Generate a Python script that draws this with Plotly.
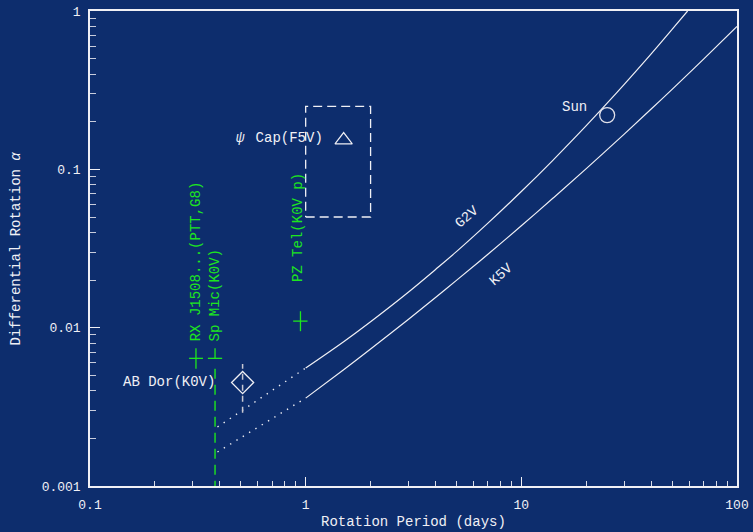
import math
import plotly.graph_objects as go

# ---- model curves: differential rotation vs rotation period ----
g2v_period = [1, 1.5, 2, 3, 4, 5, 7, 10, 14, 20, 25, 30, 40, 50, 59]
g2v_alpha = [0.00556, 0.00815, 0.0109, 0.0168, 0.0233, 0.0302, 0.0457, 0.0724,
             0.114, 0.1887, 0.2616, 0.344, 0.536, 0.765, 1.0]
k5v_period = [1, 1.5, 2, 3, 4, 5, 7, 10, 14, 20, 30, 40, 50, 70, 100]
k5v_alpha = [0.00359, 0.00543, 0.00733, 0.0113, 0.0155, 0.0199, 0.0291, 0.044,
             0.0656, 0.101, 0.167, 0.2405, 0.32, 0.497, 0.798]

# extrapolated (dotted) parts of the curves
g2v_ext_period = [0.39, 1]
g2v_ext_alpha = [0.00236, 0.00556]
k5v_ext_period = [0.39, 1]
k5v_ext_alpha = [0.00164, 0.00359]

# ---- observed stars ----
sun_period, sun_alpha = [25.0], [0.22]

psicap_period, psicap_alpha = [1.5], [0.153]
psicap_box_period = [1, 2, 2, 1, 1]
psicap_box_alpha = [0.05, 0.05, 0.25, 0.25, 0.05]

abdor_period, abdor_alpha = [0.51], [0.0045]
abdor_err_period = [0.51, 0.51]
abdor_err_alpha = [0.0029, 0.0059]

green_names = ["RX  J1508...(PTT,G8)", "Sp  Mic(K0V)", "PZ  Tel(K0V p)"]
green_period = [0.31, 0.38, 0.946]
green_alpha = [0.0064, 0.0064, 0.0110]
green_period_lo = [0.288, 0.352, 0.875]
green_period_hi = [0.334, 0.410, 1.02]
green_alpha_lo = [0.0055, 0.0064, 0.0095]
green_alpha_hi = [0.0074, 0.0074, 0.0127]

spmic_limit_period = [0.38, 0.38]
spmic_limit_alpha = [0.0055, 0.001]

# curve labels (period, alpha where the label sits)
g2v_label_at = (5.57, 0.050)
k5v_label_at = (8.09, 0.0218)

# ---- axes ----
x_tickvals = [0.1, 1, 10, 100]
x_ticktext = ["0.1", "1", "10", "100"]
y_tickvals = [0.001, 0.01, 0.1, 1]
y_ticktext = ["0.001", "0.01", "0.1", "1"]

BG = "#0d2d6d"
WHITE = "#f0f0f5"
GREEN = "#1ee61e"
FONT = "Liberation Mono"
NBSP = "\u00a0"
lg = math.log10

fig = go.Figure()

fig.add_trace(go.Scatter(x=g2v_period, y=g2v_alpha, mode="lines",
                         line=dict(color=WHITE, width=1.2), line_shape="spline"))
fig.add_trace(go.Scatter(x=k5v_period, y=k5v_alpha, mode="lines",
                         line=dict(color=WHITE, width=1.2), line_shape="spline"))
fig.add_trace(go.Scatter(x=g2v_ext_period, y=g2v_ext_alpha, mode="lines",
                         line=dict(color=WHITE, width=1.4, dash="1.4px,6px")))
fig.add_trace(go.Scatter(x=k5v_ext_period, y=k5v_ext_alpha, mode="lines",
                         line=dict(color=WHITE, width=1.4, dash="1.4px,6px")))

# Sun
fig.add_trace(go.Scatter(x=sun_period, y=sun_alpha, mode="markers",
                         marker=dict(symbol="circle-open", size=15, color="#e0e0ea",
                                     line=dict(width=1.3))))

# psi Cap with its uncertainty box
fig.add_trace(go.Scatter(x=psicap_box_period, y=psicap_box_alpha, mode="lines",
                         line=dict(color=WHITE, width=1.3, dash="9px,5px")))
fig.add_trace(go.Scatter(x=psicap_period, y=psicap_alpha, mode="markers",
                         marker=dict(symbol="triangle-up-open", size=15, color=WHITE,
                                     line=dict(width=1.2))))

# AB Dor with dashed error range
fig.add_trace(go.Scatter(x=abdor_err_period, y=abdor_err_alpha, mode="lines",
                         line=dict(color="#c8c8d2", width=1.5, dash="6px,5px")))
fig.add_trace(go.Scatter(x=abdor_period, y=abdor_alpha, mode="markers",
                         marker=dict(symbol="diamond-open", size=17, color=WHITE,
                                     line=dict(width=1.3))))

# green stars with error crosses
fig.add_trace(go.Scatter(
    x=green_period, y=green_alpha, mode="markers",
    marker=dict(size=1, color=GREEN),
    error_x=dict(type="data", symmetric=False,
                 array=[h - v for h, v in zip(green_period_hi, green_period)],
                 arrayminus=[v - l for v, l in zip(green_period, green_period_lo)],
                 color=GREEN, thickness=1.3, width=0),
    error_y=dict(type="data", symmetric=False,
                 array=[h - v for h, v in zip(green_alpha_hi, green_alpha)],
                 arrayminus=[v - l for v, l in zip(green_alpha, green_alpha_lo)],
                 color=GREEN, thickness=1.3, width=0),
))
fig.add_trace(go.Scatter(x=spmic_limit_period, y=spmic_limit_alpha, mode="lines",
                         line=dict(color=GREEN, width=1.4, dash="10px,6px")))


def label(p, a, text, **kw):
    # annotation anchored at a data point on the log-log axes
    d = dict(x=lg(p), y=lg(a), text=text, xref="x", yref="y", showarrow=False,
             font=dict(color=WHITE, size=14, family=FONT))
    d.update(kw)
    return d


annotations = [
    label(sun_period[0], sun_alpha[0], "Sun", xanchor="right", yanchor="middle",
          xshift=-18, yshift=8),
    label(psicap_period[0], psicap_alpha[0], "<i>ψ</i>" + NBSP + "\u2009" + "Cap(F5V)",
          xanchor="right", yanchor="middle", xshift=-19, yshift=2),
    label(abdor_period[0], abdor_alpha[0], "AB Dor(K0V)", xanchor="right",
          yanchor="middle", xshift=-26, yshift=1),
    label(*g2v_label_at, "G2V", textangle=-41, xanchor="center", yanchor="middle"),
    label(*k5v_label_at, "K5V", textangle=-41, xanchor="center", yanchor="middle"),
    dict(xref="paper", yref="paper", x=0.5, y=0, yshift=-36, text="Rotation Period (days)",
         showarrow=False, xanchor="center", yanchor="middle",
         font=dict(color=WHITE, size=14, family=FONT)),
    dict(xref="paper", yref="paper", x=0, y=0.5, xshift=-75,
         text="Differential Rotation <i>α</i>", showarrow=False,
         textangle=-90, xanchor="center", yanchor="middle",
         font=dict(color=WHITE, size=14, family=FONT)),
]
green_yshift = [15, 15, 37]
green_xshift = [0, 0, -3]
for name, p, a, ys, xs in zip(green_names, green_period, green_alpha,
                              green_yshift, green_xshift):
    annotations.append(label(p, a, name.replace("  ", NBSP), textangle=-90,
                             xanchor="center", yanchor="bottom", yshift=ys, xshift=xs,
                             font=dict(color=GREEN, size=14, family=FONT)))

axis_common = dict(
    type="log", showline=True, mirror=True, linecolor=WHITE, linewidth=1.5,
    showgrid=False, zeroline=False, ticks="inside", tickcolor=WHITE, tickwidth=1.2,
    tickfont=dict(color=WHITE, size=13, family=FONT), tickmode="array",
)
minor_vals = [m * d for d in [0.001, 0.01, 0.1, 1, 10] for m in range(2, 10)]

fig.update_layout(
    width=753, height=532,
    margin=dict(l=90, r=16, t=11, b=46, autoexpand=False),
    paper_bgcolor=BG, plot_bgcolor=BG, showlegend=False,
    xaxis=dict(axis_common, range=[-1, 2], tickvals=x_tickvals, ticktext=x_ticktext,
               ticklen=9, ticklabelstandoff=6,
               minor=dict(ticks="inside", ticklen=5, tickcolor="#d8dce8", tickwidth=1,
                          tickmode="array", tickvals=minor_vals)),
    yaxis=dict(axis_common, range=[-3, 0], tickvals=y_tickvals, ticktext=y_ticktext,
               ticklen=10, ticklabelstandoff=5,
               minor=dict(ticks="inside", ticklen=6, tickcolor="#c8ccdc", tickwidth=1,
                          tickmode="array", tickvals=minor_vals)),
    annotations=annotations,
)

fig.write_html("out.html")
